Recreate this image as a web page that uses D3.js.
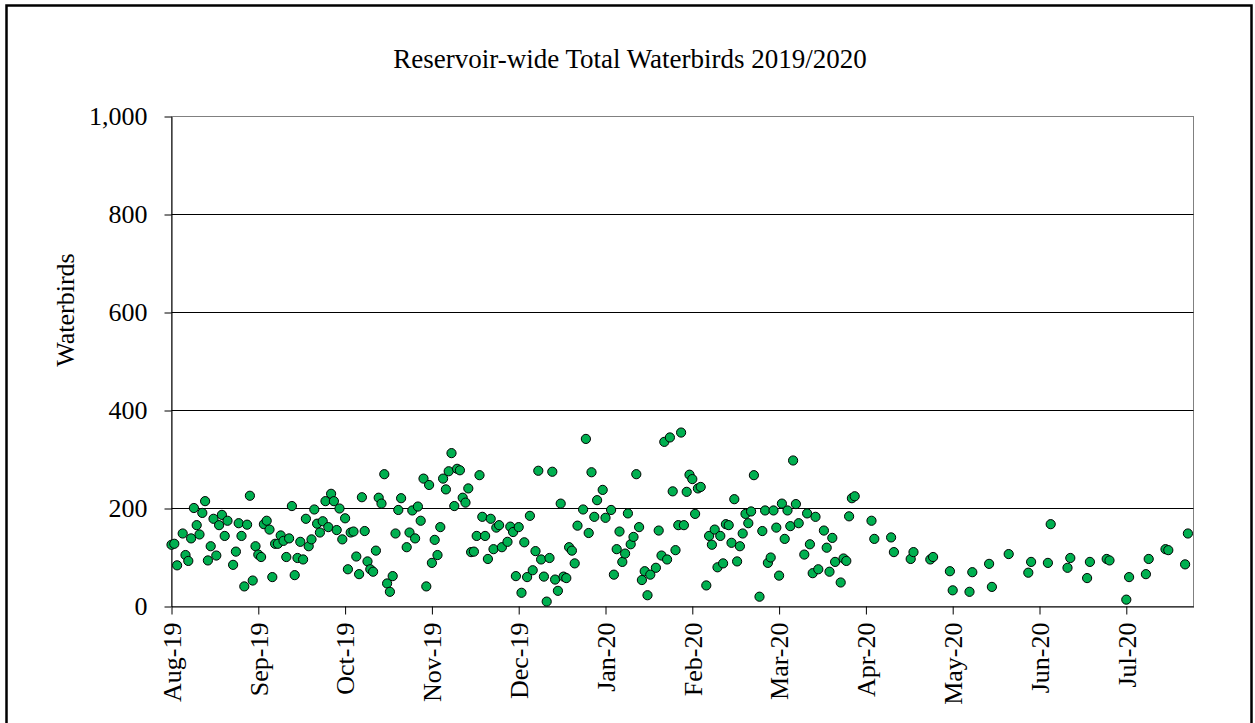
<!DOCTYPE html>
<html>
<head>
<meta charset="utf-8">
<script src="https://cdn.jsdelivr.net/npm/d3@7"></script>
<style>
  html, body { margin: 0; padding: 0; background: #fff; }
  svg { display: block; }
  text { font-family: "Liberation Serif", "Times New Roman", serif; fill: #000; }
</style>
</head>
<body>
<svg id="chart" width="1255" height="723"></svg>
<script>
// Daily reservoir-wide waterbird counts, August 2019 – July 2020
const surveyDates = [
  // August 2019
  "2019-08-01","2019-08-02","2019-08-03","2019-08-05","2019-08-06","2019-08-07","2019-08-08","2019-08-09","2019-08-10","2019-08-11",
  "2019-08-12","2019-08-13","2019-08-14","2019-08-15","2019-08-16","2019-08-17","2019-08-18","2019-08-19","2019-08-20","2019-08-21",
  "2019-08-23","2019-08-24","2019-08-25","2019-08-26","2019-08-27","2019-08-28","2019-08-29","2019-08-30","2019-08-31",
  // September 2019
  "2019-09-01","2019-09-02","2019-09-03","2019-09-04","2019-09-05","2019-09-06","2019-09-07","2019-09-08","2019-09-09","2019-09-10",
  "2019-09-11","2019-09-12","2019-09-13","2019-09-14","2019-09-15","2019-09-16","2019-09-17","2019-09-18","2019-09-19","2019-09-20",
  "2019-09-21","2019-09-22","2019-09-23","2019-09-24","2019-09-25","2019-09-26","2019-09-27","2019-09-28","2019-09-29","2019-09-30",
  // October 2019
  "2019-10-01","2019-10-02","2019-10-03","2019-10-04","2019-10-05","2019-10-06","2019-10-07","2019-10-08","2019-10-09","2019-10-10",
  "2019-10-11","2019-10-12","2019-10-13","2019-10-14","2019-10-15","2019-10-16","2019-10-17","2019-10-18","2019-10-19","2019-10-20",
  "2019-10-21","2019-10-22","2019-10-24","2019-10-25","2019-10-26","2019-10-27","2019-10-28","2019-10-29","2019-10-30","2019-10-31",
  // November 2019
  "2019-11-01","2019-11-02","2019-11-03","2019-11-04","2019-11-05","2019-11-06","2019-11-07","2019-11-08","2019-11-09","2019-11-10",
  "2019-11-11","2019-11-12","2019-11-13","2019-11-14","2019-11-15","2019-11-16","2019-11-17","2019-11-18","2019-11-19","2019-11-20",
  "2019-11-21","2019-11-22","2019-11-23","2019-11-24","2019-11-25","2019-11-26","2019-11-27","2019-11-29","2019-11-30",
  // December 2019
  "2019-12-01","2019-12-02","2019-12-03","2019-12-04","2019-12-05","2019-12-06","2019-12-07","2019-12-08","2019-12-09","2019-12-10",
  "2019-12-11","2019-12-12","2019-12-13","2019-12-14","2019-12-15","2019-12-16","2019-12-17","2019-12-18","2019-12-19","2019-12-20",
  "2019-12-21","2019-12-22","2019-12-23","2019-12-24","2019-12-26","2019-12-27","2019-12-28","2019-12-29","2019-12-30","2019-12-31",
  // January 2020
  "2020-01-02","2020-01-03","2020-01-05","2020-01-06","2020-01-07","2020-01-08","2020-01-09","2020-01-10","2020-01-11","2020-01-12",
  "2020-01-13","2020-01-14","2020-01-15","2020-01-16","2020-01-17","2020-01-18","2020-01-19","2020-01-21","2020-01-22","2020-01-23",
  "2020-01-24","2020-01-25","2020-01-26","2020-01-27","2020-01-28","2020-01-29","2020-01-30","2020-01-31",
  // February 2020
  "2020-02-01","2020-02-02","2020-02-03","2020-02-04","2020-02-05","2020-02-06","2020-02-08","2020-02-09","2020-02-10","2020-02-11",
  "2020-02-12","2020-02-13","2020-02-14","2020-02-15","2020-02-16","2020-02-17","2020-02-18","2020-02-19","2020-02-20","2020-02-21",
  "2020-02-22","2020-02-23","2020-02-24","2020-02-25","2020-02-27","2020-02-28","2020-02-29",
  // March 2020
  "2020-03-01","2020-03-02","2020-03-03","2020-03-04","2020-03-05","2020-03-06","2020-03-07","2020-03-08","2020-03-09","2020-03-10",
  "2020-03-11","2020-03-12","2020-03-14","2020-03-15","2020-03-16","2020-03-17","2020-03-18","2020-03-19","2020-03-21","2020-03-22",
  "2020-03-23","2020-03-24","2020-03-25","2020-03-27","2020-03-28","2020-03-29","2020-03-30","2020-03-31",
  // April – July 2020 (twice-weekly surveys)
  "2020-04-01","2020-04-07","2020-04-08","2020-04-14","2020-04-15","2020-04-21","2020-04-22","2020-04-28","2020-04-29",
  "2020-05-05","2020-05-06","2020-05-12","2020-05-13","2020-05-19","2020-05-20","2020-05-26",
  "2020-06-02","2020-06-03","2020-06-09","2020-06-10","2020-06-16","2020-06-17","2020-06-23","2020-06-24","2020-06-30",
  "2020-07-01","2020-07-07","2020-07-08","2020-07-14","2020-07-15","2020-07-21","2020-07-22","2020-07-28","2020-07-29"
];

const waterbirdCounts = [
  // August 2019
  126,128,84,149,105,93,139,201,166,147,
  191,215,94,123,179,104,166,187,144,175,
  85,112,170,144,41,167,226,53,123,
  // September 2019
  106,101,168,175,157,60,128,128,145,134,
  101,139,205,64,99,132,96,179,123,137,
  198,169,151,174,215,162,230,215,156,200,
  // October 2019
  137,180,76,151,153,102,66,223,154,92,
  76,71,114,222,210,270,47,30,62,149,
  197,221,121,151,196,139,204,175,261,41,
  // November 2019
  248,89,136,105,162,261,239,276,313,205,
  281,278,222,212,241,111,112,144,268,183,
  144,97,179,117,161,166,121,132,163,
  // December 2019
  152,62,162,28,131,60,185,74,113,277,
  96,61,10,99,275,55,32,210,61,58,
  121,114,88,165,198,342,150,274,183,217,
  // January 2020
  238,181,197,65,117,153,91,108,190,127,
  142,270,162,54,72,23,65,79,155,104,
  336,96,345,235,115,166,355,166,
  // February 2020
  234,269,260,189,241,244,43,144,126,157,
  80,144,88,168,166,130,219,92,123,149,
  189,170,194,268,20,154,196,
  // March 2020
  89,100,196,161,63,210,138,196,164,298,
  209,170,106,190,127,68,183,76,155,120,
  71,140,91,49,98,93,184,221,
  // April – July 2020
  225,175,138,141,111,97,111,96,101,
  72,33,30,70,87,40,107,
  69,91,89,168,79,99,58,91,97,
  94,14,60,66,97,117,115,86,149
];

const yTickValues = [0, 200, 400, 600, 800, 1000];
const seasonStart = "2019-08-01";
const seasonEnd = "2020-07-31";
const tickStepDays = 31;
const tickCount = 12;

const chartTitle = "Reservoir-wide Total Waterbirds 2019/2020";
const yAxisTitle = "Waterbirds";

const parseDate = d3.timeParse("%Y-%m-%d");
const points = surveyDates.map((d, i) => ({ date: parseDate(d), value: waterbirdCounts[i] }));

const plot = { left: 171.5, right: 1193.5, top: 116.5, bottom: 606.5 };

const svg = d3.select("#chart");

// chart area frame
svg.append("rect")
  .attr("x", 6.5).attr("y", 5.5)
  .attr("width", 1245).attr("height", 760)
  .attr("fill", "#fff")
  .attr("stroke", "#000")
  .attr("stroke-width", 2.5);

const x = d3.scaleTime()
  .domain([parseDate(seasonStart), parseDate(seasonEnd)])
  .range([plot.left, plot.right]);

const y = d3.scaleLinear()
  .domain([0, 1000])
  .range([plot.bottom, plot.top]);

// plot area border
svg.append("rect")
  .attr("x", plot.left).attr("y", plot.top)
  .attr("width", plot.right - plot.left)
  .attr("height", plot.bottom - plot.top)
  .attr("fill", "#fff")
  .attr("stroke", "#808080")
  .attr("stroke-width", 1);

// horizontal gridlines
svg.append("g")
  .selectAll("line")
  .data(yTickValues.filter(v => v > 0 && v < 1000))
  .join("line")
  .attr("x1", plot.left).attr("x2", plot.right)
  .attr("y1", d => y(d)).attr("y2", d => y(d))
  .attr("stroke", "#000")
  .attr("stroke-width", 1);

// y axis
const yAxis = svg.append("g")
  .attr("transform", `translate(${plot.left},0)`)
  .call(d3.axisLeft(y)
    .tickValues(yTickValues)
    .tickFormat(d3.format(","))
    .tickSize(7)
    .tickPadding(17)
    .tickSizeOuter(0));
yAxis.select(".domain").attr("stroke", "#000");
yAxis.selectAll(".tick line").attr("stroke", "#000");
yAxis.selectAll(".tick text")
  .attr("font-size", 26)
  .attr("font-family", null)
  .attr("fill", "#000");

// x axis, ticks every 31 days from the start of the season
const start = parseDate(seasonStart);
const xTickValues = d3.range(tickCount).map(k => d3.timeDay.offset(start, k * tickStepDays));
const xAxis = svg.append("g")
  .attr("transform", `translate(0,${plot.bottom})`)
  .call(d3.axisBottom(x)
    .tickValues(xTickValues)
    .tickFormat(d3.timeFormat("%b-%y"))
    .tickSize(8)
    .tickSizeOuter(0));
xAxis.select(".domain").attr("stroke", "#000");
xAxis.selectAll(".tick line").attr("stroke", "#000");
xAxis.selectAll(".tick text")
  .attr("font-size", 26)
  .attr("font-family", null)
  .attr("fill", "#000")
  .attr("transform", "rotate(-90)")
  .attr("text-anchor", "end")
  .attr("x", -16)
  .attr("y", 0)
  .attr("dy", "0.34em");
svg.selectAll(".domain").attr("stroke-width", 1);
d3.selectAll("g.tick text").style("font-family", "'Liberation Serif', 'Times New Roman', serif");

// survey counts
svg.append("g")
  .selectAll("circle")
  .data(points)
  .join("circle")
  .attr("cx", d => x(d.date))
  .attr("cy", d => y(d.value))
  .attr("r", 4.6)
  .attr("fill", "#00b050")
  .attr("stroke", "#000")
  .attr("stroke-width", 1);

// titles
svg.append("text")
  .attr("x", 630).attr("y", 68)
  .attr("text-anchor", "middle")
  .attr("font-size", 27)
  .text(chartTitle);

svg.append("text")
  .attr("transform", "translate(74,310) rotate(-90)")
  .attr("text-anchor", "middle")
  .attr("font-size", 26)
  .text(yAxisTitle);
</script>
</body>
</html>
